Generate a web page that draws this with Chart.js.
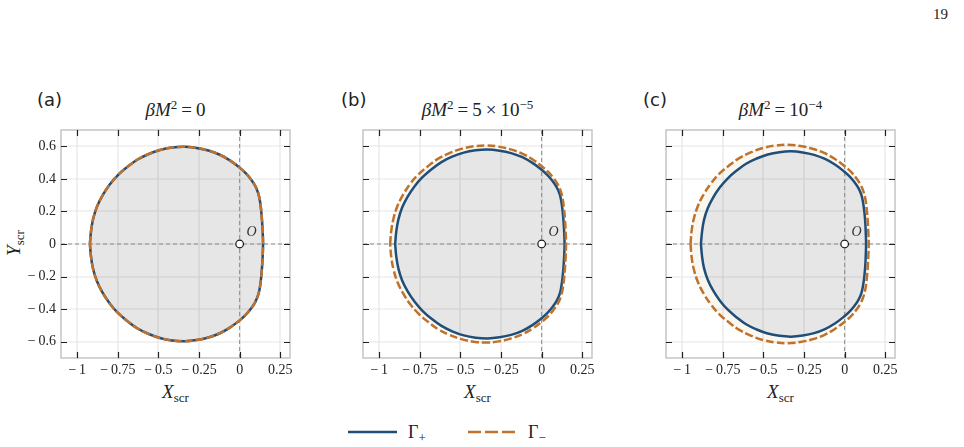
<!DOCTYPE html>
<html><head><meta charset="utf-8">
<script src="https://cdn.jsdelivr.net/npm/chart.js@4.4.1/dist/chart.umd.min.js"></script>
<style>
html,body{margin:0;padding:0;background:#fff;}
body{width:964px;height:447px;position:relative;overflow:hidden;font-family:"Liberation Serif","DejaVu Serif",serif;color:#222;}
canvas{position:absolute;}
.t{position:absolute;white-space:nowrap;}
.lab{font-family:"DejaVu Sans",sans-serif;font-size:18px;color:#222;}
.ttl{text-align:center;font-size:19px;line-height:20px;}
.xt{text-align:center;font-size:19px;line-height:22px;}
.ttl sup{font-size:13px;}
.op{margin:0 4px;}
sub{font-size:13px;font-style:normal;vertical-align:-4px;line-height:0;}
sup{font-size:12px;font-style:normal;vertical-align:7px;line-height:0;}
i{font-style:italic;}
</style></head><body>
<div class="t" style="left:933px;top:6px;font-size:15px;">19</div>

<div class="t lab" style="left:37px;top:89px;">(a)</div>
<div class="t lab" style="left:341px;top:89px;">(b)</div>
<div class="t lab" style="left:643px;top:89px;">(c)</div>

<div class="t ttl" style="left:61px;width:229px;top:100px;"><i>βM</i><sup>2</sup><span class="op">=</span>0</div>
<div class="t ttl" style="left:363px;width:229px;top:100px;"><i>βM</i><sup>2</sup><span class="op">=</span>5<span class="op">×</span>10<sup>−5</sup></div>
<div class="t ttl" style="left:666px;width:229px;top:100px;"><i>βM</i><sup>2</sup><span class="op">=</span>10<sup>−4</sup></div>

<div class="t xt" style="left:61px;width:229px;top:381px;"><i>X</i><sub>scr</sub></div>
<div class="t xt" style="left:363px;width:229px;top:381px;"><i>X</i><sub>scr</sub></div>
<div class="t xt" style="left:666px;width:229px;top:381px;"><i>X</i><sub>scr</sub></div>

<div class="t xt" style="left:-16px;width:60px;top:232px;transform:rotate(-90deg);"><i>Y</i><sub>scr</sub></div>

<svg style="position:absolute;left:340px;top:420px;" width="80" height="24">
  <line x1="8" y1="12" x2="57" y2="12" stroke="#1f4e79" stroke-width="2.6"/>
</svg>
<div class="t" style="left:408px;top:422px;font-size:18px;line-height:20px;">Γ<sub>+</sub></div>
<svg style="position:absolute;left:460px;top:420px;" width="70" height="24">
  <line x1="8" y1="12" x2="56" y2="12" stroke="#c0722a" stroke-width="2.6" stroke-dasharray="13,4"/>
</svg>
<div class="t" style="left:528px;top:422px;font-size:18px;line-height:20px;">Γ<sub>−</sub></div>

<canvas id="c0" width="306" height="300"></canvas>
<canvas id="c1" width="306" height="300"></canvas>
<canvas id="c2" width="306" height="300"></canvas>

<script>
// ---- data ----
const xTicks = [-1, -0.75, -0.5, -0.25, 0, 0.25];
const xTickLabels = ['−\u20091', '−\u20090.75', '−\u20090.5', '−\u20090.25', '0', '0.25'];
const yTicks = [-0.6, -0.4, -0.2, 0, 0.2, 0.4, 0.6];
const yTickLabels = ['−\u20090.6', '−\u20090.4', '−\u20090.2', '0', '0.2', '0.4', '0.6'];
const xRange = [-1.1, 0.31];
const yRange = [-0.7, 0.7];

// (a) beta M^2 = 0 : Gamma+ and Gamma- coincide
const aPlusX = [-0.922,-0.915,-0.902,-0.878,-0.844,-0.800,-0.751,-0.693,-0.631,-0.563,-0.491,-0.416,-0.340,-0.265,-0.192,-0.122,-0.058,0.000,0.037,0.069,0.095,0.113,0.124,0.132,0.138,0.142,0.144,
  0.142,0.138,0.132,0.124,0.113,0.095,0.069,0.037,0.000,-0.058,-0.122,-0.192,-0.265,-0.340,-0.416,-0.491,-0.563,-0.631,-0.693,-0.751,-0.800,-0.844,-0.878,-0.902,-0.915,-0.922];
const aPlusY = [0,0.080,0.155,0.230,0.299,0.365,0.422,0.472,0.517,0.551,0.577,0.592,0.597,0.590,0.574,0.548,0.512,0.469,0.435,0.398,0.358,0.316,0.270,0.210,0.140,0.070,0,
  -0.070,-0.140,-0.210,-0.270,-0.316,-0.358,-0.398,-0.435,-0.469,-0.512,-0.548,-0.574,-0.590,-0.597,-0.592,-0.577,-0.551,-0.517,-0.472,-0.422,-0.365,-0.299,-0.230,-0.155,-0.080,0];
const aMinusX = [-0.922,-0.915,-0.902,-0.878,-0.844,-0.800,-0.751,-0.693,-0.631,-0.563,-0.491,-0.416,-0.340,-0.265,-0.192,-0.122,-0.058,0.000,0.037,0.069,0.095,0.113,0.124,0.132,0.138,0.142,0.144,
  0.142,0.138,0.132,0.124,0.113,0.095,0.069,0.037,0.000,-0.058,-0.122,-0.192,-0.265,-0.340,-0.416,-0.491,-0.563,-0.631,-0.693,-0.751,-0.800,-0.844,-0.878,-0.902,-0.915,-0.922];
const aMinusY = [0,0.080,0.155,0.230,0.299,0.365,0.422,0.472,0.517,0.551,0.577,0.592,0.597,0.590,0.574,0.548,0.512,0.469,0.435,0.398,0.358,0.316,0.270,0.210,0.140,0.070,0,
  -0.070,-0.140,-0.210,-0.270,-0.316,-0.358,-0.398,-0.435,-0.469,-0.512,-0.548,-0.574,-0.590,-0.597,-0.592,-0.577,-0.551,-0.517,-0.472,-0.422,-0.365,-0.299,-0.230,-0.155,-0.080,0];

// (b) beta M^2 = 5e-5
const bPlusX = [-0.902,-0.895,-0.882,-0.859,-0.825,-0.782,-0.734,-0.678,-0.617,-0.551,-0.480,-0.407,-0.333,-0.259,-0.188,-0.119,-0.057,0.000,0.036,0.067,0.093,0.111,0.121,0.129,0.135,0.139,0.141,
  0.139,0.135,0.129,0.121,0.111,0.093,0.067,0.036,0.000,-0.057,-0.119,-0.188,-0.259,-0.333,-0.407,-0.480,-0.551,-0.617,-0.678,-0.734,-0.782,-0.825,-0.859,-0.882,-0.895,-0.902];
const bPlusY = [0,0.078,0.151,0.224,0.291,0.355,0.410,0.459,0.503,0.536,0.561,0.575,0.580,0.573,0.558,0.533,0.498,0.456,0.423,0.387,0.348,0.307,0.262,0.204,0.136,0.068,0,
  -0.068,-0.136,-0.204,-0.262,-0.307,-0.348,-0.387,-0.423,-0.456,-0.498,-0.533,-0.558,-0.573,-0.580,-0.575,-0.561,-0.536,-0.503,-0.459,-0.410,-0.355,-0.291,-0.224,-0.151,-0.078,0];
const bMinusX = [-0.933,-0.926,-0.912,-0.888,-0.853,-0.809,-0.759,-0.700,-0.637,-0.568,-0.495,-0.419,-0.341,-0.265,-0.191,-0.120,-0.055,0.004,0.042,0.074,0.101,0.119,0.130,0.138,0.144,0.148,0.150,
  0.148,0.144,0.138,0.130,0.119,0.101,0.074,0.042,0.004,-0.055,-0.120,-0.191,-0.265,-0.341,-0.419,-0.495,-0.568,-0.637,-0.700,-0.759,-0.809,-0.853,-0.888,-0.912,-0.926,-0.933];
const bMinusY = [0,0.081,0.157,0.233,0.303,0.370,0.427,0.478,0.524,0.558,0.584,0.600,0.605,0.598,0.581,0.555,0.519,0.475,0.441,0.403,0.363,0.320,0.274,0.213,0.142,0.071,0,
  -0.071,-0.142,-0.213,-0.274,-0.320,-0.363,-0.403,-0.441,-0.475,-0.519,-0.555,-0.581,-0.598,-0.605,-0.600,-0.584,-0.558,-0.524,-0.478,-0.427,-0.370,-0.303,-0.233,-0.157,-0.081,0];

// (c) beta M^2 = 1e-4
const cPlusX = [-0.885,-0.878,-0.866,-0.843,-0.810,-0.768,-0.721,-0.666,-0.607,-0.542,-0.473,-0.402,-0.329,-0.258,-0.188,-0.121,-0.060,-0.005,0.030,0.061,0.086,0.103,0.113,0.121,0.127,0.130,0.132,
  0.130,0.127,0.121,0.113,0.103,0.086,0.061,0.030,-0.005,-0.060,-0.121,-0.188,-0.258,-0.329,-0.402,-0.473,-0.542,-0.607,-0.666,-0.721,-0.768,-0.810,-0.843,-0.866,-0.878,-0.885];
const cPlusY = [0,0.076,0.148,0.219,0.285,0.348,0.402,0.450,0.493,0.525,0.550,0.564,0.569,0.562,0.547,0.522,0.488,0.447,0.415,0.379,0.341,0.301,0.257,0.200,0.133,0.067,0,
  -0.067,-0.133,-0.200,-0.257,-0.301,-0.341,-0.379,-0.415,-0.447,-0.488,-0.522,-0.547,-0.562,-0.569,-0.564,-0.550,-0.525,-0.493,-0.450,-0.402,-0.348,-0.285,-0.219,-0.148,-0.076,0];
const cMinusX = [-0.949,-0.942,-0.928,-0.903,-0.868,-0.823,-0.773,-0.713,-0.649,-0.579,-0.505,-0.428,-0.350,-0.273,-0.198,-0.126,-0.060,0.000,0.038,0.071,0.098,0.116,0.128,0.136,0.142,0.146,0.148,
  0.146,0.142,0.136,0.128,0.116,0.098,0.071,0.038,0.000,-0.060,-0.126,-0.198,-0.273,-0.350,-0.428,-0.505,-0.579,-0.649,-0.713,-0.773,-0.823,-0.868,-0.903,-0.928,-0.942,-0.949];
const cMinusY = [0,0.082,0.158,0.235,0.305,0.372,0.430,0.481,0.527,0.562,0.589,0.604,0.609,0.602,0.585,0.559,0.522,0.478,0.444,0.406,0.365,0.322,0.275,0.214,0.143,0.071,0,
  -0.071,-0.143,-0.214,-0.275,-0.322,-0.365,-0.406,-0.444,-0.478,-0.522,-0.559,-0.585,-0.602,-0.609,-0.604,-0.589,-0.562,-0.527,-0.481,-0.430,-0.372,-0.305,-0.235,-0.158,-0.082,0];

// ---- style / layout ----
const BLUE = '#1f4e79';
const ORANGE = '#c0722a';
const panels = [
  {id:'c0', left:61,  showY:true,  px:aPlusX, py:aPlusY, mx:aMinusX, my:aMinusY},
  {id:'c1', left:363, showY:false, px:bPlusX, py:bPlusY, mx:bMinusX, my:bMinusY},
  {id:'c2', left:666, showY:false, px:cPlusX, py:cPlusY, mx:cMinusX, my:cMinusY}
];
const AXW = 61, TOP = 90;
Chart.defaults.font.family = "'Liberation Serif', 'DejaVu Serif', serif";
Chart.defaults.font.size = 14;

const pts = (xs, ys) => xs.map((x, i) => ({x: x, y: ys[i]}));

const framePlugin = {
  id: 'frame',
  afterDatasetDraw(chart, args) {
    const ds = chart.data.datasets[args.index];
    if (!ds.gridAfter) return;
    const ctx = chart.ctx, a = chart.chartArea, sx = chart.scales.x, sy = chart.scales.y;
    ctx.save();
    ctx.beginPath(); ctx.rect(a.left, a.top, a.right - a.left, a.bottom - a.top); ctx.clip();
    ctx.strokeStyle = 'rgba(0,0,0,0.1)'; ctx.lineWidth = 1.2;
    ctx.beginPath();
    xTicks.forEach(v => { const p = Math.round(sx.getPixelForValue(v)); ctx.moveTo(p, a.top); ctx.lineTo(p, a.bottom); });
    yTicks.forEach(v => { const p = Math.round(sy.getPixelForValue(v)); ctx.moveTo(a.left, p); ctx.lineTo(a.right, p); });
    ctx.stroke();
    ctx.restore();
  },
  afterDraw(chart) {
    const ctx = chart.ctx, a = chart.chartArea, sx = chart.scales.x, sy = chart.scales.y;
    ctx.save();
    ctx.strokeStyle = '#c8c8c8'; ctx.lineWidth = 1.6;
    ctx.strokeRect(a.left, a.top, a.right - a.left, a.bottom - a.top);
    ctx.strokeStyle = '#222'; ctx.lineWidth = 1.2;
    ctx.beginPath();
    xTicks.forEach(v => {
      const p = Math.round(sx.getPixelForValue(v)) + 0.5;
      ctx.moveTo(p, a.top); ctx.lineTo(p, a.top + 6);
      ctx.moveTo(p, a.bottom); ctx.lineTo(p, a.bottom - 6);
    });
    yTicks.forEach(v => {
      const p = Math.round(sy.getPixelForValue(v)) + 0.5;
      ctx.moveTo(a.left, p); ctx.lineTo(a.left + 6, p);
      ctx.moveTo(a.right, p); ctx.lineTo(a.right - 6, p);
    });
    ctx.stroke();
    ctx.fillStyle = '#333';
    ctx.font = 'italic 14px "Liberation Serif"';
    ctx.textAlign = 'center'; ctx.textBaseline = 'middle';
    ctx.fillText('O', sx.getPixelForValue(0) + 12, sy.getPixelForValue(0) - 12);
    ctx.restore();
  }
};

panels.forEach(p => {
  const cv = document.getElementById(p.id);
  cv.style.left = (p.left - AXW) + 'px';
  cv.style.top = TOP + 'px';
  const datasets = [
    {data:[{x:0,y:0}], pointRadius:3.8, pointBackgroundColor:'#fff', pointBorderColor:'#111', pointBorderWidth:1.2, showLine:false, order:0},
    {data:pts(p.mx, p.my), showLine:true, tension:0.4, borderColor:ORANGE, borderWidth:2.5, borderDash:[8,3], pointRadius:0, fill:false, order:1},
    {data:pts(p.px, p.py), showLine:true, tension:0.4, borderColor:BLUE, borderWidth:2.5, pointRadius:0, fill:false, order:2},
    {data:[{x:xRange[0],y:0},{x:xRange[1],y:0}], showLine:true, borderColor:'#8a8a8a', borderWidth:1, borderDash:[4,3], pointRadius:0, fill:false, order:3},
    {data:[{x:0,y:yRange[0]},{x:0,y:yRange[1]}], showLine:true, borderColor:'#8a8a8a', borderWidth:1, borderDash:[4,3], pointRadius:0, fill:false, order:3},
    {data:pts(p.px, p.py), showLine:true, tension:0.4, borderColor:'rgba(0,0,0,0)', borderWidth:0, pointRadius:0, fill:'shape', backgroundColor:'#e6e6e6', gridAfter:true, order:4},
    {data:pts(p.mx, p.my), showLine:true, tension:0.4, borderColor:'rgba(0,0,0,0)', borderWidth:0, pointRadius:0, fill:'shape', backgroundColor:'#faf6f0', order:5}
  ];
  new Chart(cv, {
    type: 'scatter',
    data: {datasets: datasets},
    plugins: [framePlugin],
    options: {
      responsive: false, animation: false, devicePixelRatio: 1, events: [],
      layout: {padding: {top: 40, right: 16, left: 0, bottom: 0}},
      plugins: {legend: {display: false}, tooltip: {enabled: false}},
      scales: {
        x: {
          type: 'linear', min: xRange[0], max: xRange[1],
          afterBuildTicks: s => { s.ticks = xTicks.map(v => ({value: v})); },
          afterFit: s => { s.height = 32; },
          grid: {display: false, drawTicks: false},
          border: {display: false},
          ticks: {autoSkip: false, maxRotation: 0, padding: 4, color: '#222',
                  font: {family: "'Liberation Serif', serif", size: 14},
                  callback: v => xTickLabels[xTicks.indexOf(v)]}
        },
        y: {
          type: 'linear', min: yRange[0], max: yRange[1],
          afterBuildTicks: s => { s.ticks = yTicks.map(v => ({value: v})); },
          afterFit: s => { s.width = AXW; },
          grid: {display: false, drawTicks: false},
          border: {display: false},
          ticks: {display: p.showY, padding: 5, color: '#222',
                  font: {family: "'Liberation Serif', serif", size: 14},
                  callback: v => yTickLabels[yTicks.indexOf(v)]}
        }
      }
    }
  });
});
</script>
</body></html>
